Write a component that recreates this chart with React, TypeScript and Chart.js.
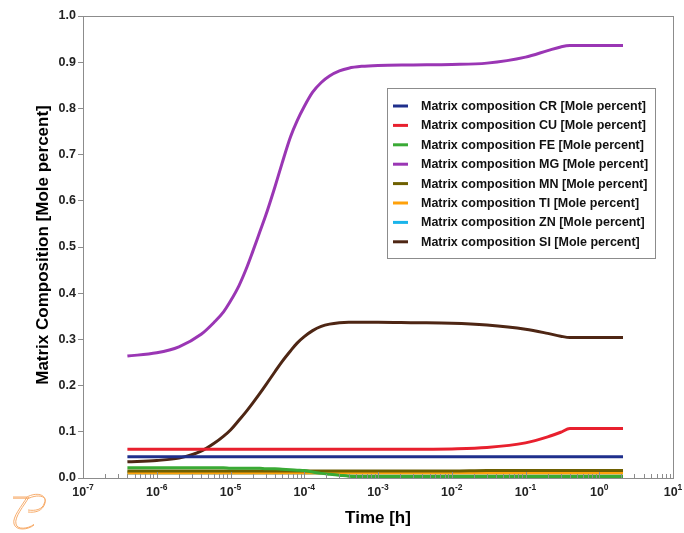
import React, { useEffect, useRef } from "react";
import { Chart, registerables } from "chart.js";

Chart.register(...registerables);

// ---- Data ----
const TIME_H = [4e-7, 1e-6, 2e-6, 4e-6, 6e-6, 8e-6, 1e-5, 1.3e-5, 1.6e-5, 2e-5, 2.5e-5, 3e-5, 4e-5, 5e-5, 6.5e-5, 8e-5, 1e-4, 1.3e-4, 1.7e-4, 2.2e-4, 3e-4, 4e-4, 6e-4, 1e-3, 3e-3, 1e-2, 3e-2, 0.1, 0.2, 0.3, 0.4, 1, 2.1];

const CR = [0.046, 0.046, 0.046, 0.046, 0.046, 0.046, 0.046, 0.046, 0.046, 0.046, 0.046, 0.046, 0.046, 0.046, 0.046, 0.046, 0.046, 0.046, 0.046, 0.046, 0.046, 0.046, 0.046, 0.046, 0.046, 0.046, 0.046, 0.046, 0.046, 0.046, 0.046, 0.046, 0.046];
const CU = [0.062, 0.062, 0.062, 0.062, 0.062, 0.062, 0.062, 0.062, 0.062, 0.062, 0.062, 0.062, 0.062, 0.062, 0.062, 0.062, 0.062, 0.062, 0.062, 0.062, 0.062, 0.062, 0.062, 0.062, 0.062, 0.063, 0.066, 0.076, 0.089, 0.099, 0.107, 0.107, 0.107];
const FE = [0.022, 0.022, 0.022, 0.022, 0.022, 0.022, 0.021, 0.021, 0.021, 0.021, 0.021, 0.02, 0.02, 0.019, 0.018, 0.017, 0.016, 0.013, 0.01, 0.008, 0.006, 0.004, 0.003, 0.003, 0.003, 0.003, 0.003, 0.003, 0.003, 0.003, 0.003, 0.003, 0.003];
const MG = [0.264, 0.271, 0.284, 0.311, 0.337, 0.359, 0.383, 0.416, 0.449, 0.49, 0.533, 0.568, 0.63, 0.681, 0.738, 0.773, 0.804, 0.835, 0.856, 0.87, 0.881, 0.887, 0.891, 0.893, 0.894, 0.895, 0.898, 0.911, 0.925, 0.933, 0.936, 0.936, 0.936];
const MN = [0.015, 0.015, 0.015, 0.015, 0.015, 0.015, 0.015, 0.015, 0.015, 0.015, 0.015, 0.015, 0.015, 0.015, 0.015, 0.015, 0.015, 0.015, 0.015, 0.015, 0.015, 0.015, 0.015, 0.015, 0.015, 0.015, 0.016, 0.016, 0.016, 0.016, 0.016, 0.016, 0.016];
const TI = [0.011, 0.011, 0.011, 0.011, 0.011, 0.011, 0.011, 0.011, 0.011, 0.011, 0.011, 0.011, 0.011, 0.011, 0.011, 0.011, 0.011, 0.011, 0.011, 0.011, 0.011, 0.011, 0.011, 0.011, 0.011, 0.011, 0.011, 0.011, 0.011, 0.011, 0.011, 0.011, 0.011];
const ZN = [0.011, 0.011, 0.011, 0.011, 0.011, 0.011, 0.011, 0.011, 0.011, 0.011, 0.011, 0.011, 0.011, 0.011, 0.011, 0.011, 0.011, 0.011, 0.011, 0.011, 0.011, 0.011, 0.011, 0.011, 0.011, 0.011, 0.011, 0.011, 0.011, 0.011, 0.011, 0.011, 0.011];
const SI = [0.035, 0.038, 0.043, 0.058, 0.075, 0.09, 0.104, 0.125, 0.142, 0.162, 0.183, 0.201, 0.23, 0.252, 0.275, 0.292, 0.306, 0.319, 0.328, 0.333, 0.336, 0.337, 0.337, 0.337, 0.336, 0.335, 0.331, 0.322, 0.313, 0.307, 0.304, 0.304, 0.304];

const SERIES_NAMES = [
  "Matrix composition CR [Mole percent]",
  "Matrix composition CU [Mole percent]",
  "Matrix composition FE [Mole percent]",
  "Matrix composition MG [Mole percent]",
  "Matrix composition MN [Mole percent]",
  "Matrix composition TI [Mole percent]",
  "Matrix composition ZN [Mole percent]",
  "Matrix composition SI [Mole percent]",
];
const SERIES_VALUES = [CR, CU, FE, MG, MN, TI, ZN, SI];
const SERIES_COLORS = ["#1f2f8c", "#e8202e", "#3aaa35", "#9a36b4", "#6e6000", "#ffa10a", "#1ab4ea", "#4e2614"];

const X_DECADE_EXPONENTS = [-7, -6, -5, -4, -3, -2, -1, 0, 1];
const Y_TICKS = [0, 0.1, 0.2, 0.3, 0.4, 0.5, 0.6, 0.7, 0.8, 0.9, 1.0];

const X_TITLE = "Time [h]";
const Y_TITLE = "Matrix Composition [Mole percent]";

const FONT = "'Liberation Sans', Arial, sans-serif";

const decorPlugin = {
  id: "decor",
  afterDraw(chart: any) {
    const ctx = chart.ctx as CanvasRenderingContext2D;
    const { left, right, top, bottom } = chart.chartArea;
    const xs = chart.scales.x;
    ctx.save();

    // frame
    ctx.strokeStyle = "#8c8c8c";
    ctx.lineWidth = 1;
    ctx.strokeRect(Math.round(left) + 0.5, Math.round(top) + 0.5, Math.round(right - left), Math.round(bottom - top));

    // x ticks (inward)
    ctx.beginPath();
    for (let i = 0; i < X_DECADE_EXPONENTS.length; i++) {
      const e = X_DECADE_EXPONENTS[i];
      const px = Math.round(xs.getPixelForValue(Math.pow(10, e))) + 0.5;
      ctx.moveTo(px, bottom);
      ctx.lineTo(px, bottom - 6);
      if (i < X_DECADE_EXPONENTS.length - 1) {
        for (let k = 2; k <= 9; k++) {
          const mx = Math.round(xs.getPixelForValue(k * Math.pow(10, e))) + 0.5;
          ctx.moveTo(mx, bottom);
          ctx.lineTo(mx, bottom - 4);
        }
      }
    }
    ctx.stroke();

    // x tick labels with superscripts
    ctx.fillStyle = "#222";
    ctx.textBaseline = "alphabetic";
    ctx.textAlign = "left";
    for (const e of X_DECADE_EXPONENTS) {
      const px = xs.getPixelForValue(Math.pow(10, e));
      ctx.font = `bold 12.5px ${FONT}`;
      const base = "10";
      const wb = ctx.measureText(base).width;
      ctx.font = `bold 8.5px ${FONT}`;
      const ex = String(e);
      const we = ctx.measureText(ex).width;
      const x0 = px - (wb + we) / 2;
      ctx.font = `bold 12.5px ${FONT}`;
      ctx.fillText(base, x0, bottom + 18);
      ctx.font = `bold 8.5px ${FONT}`;
      ctx.fillText(ex, x0 + wb, bottom + 12);
    }

    // axis titles
    ctx.fillStyle = "#000";
    ctx.font = `bold 17px ${FONT}`;
    ctx.textAlign = "center";
    ctx.textBaseline = "middle";
    ctx.fillText(X_TITLE, (left + right) / 2, bottom + 40);
    ctx.save();
    ctx.translate(43, (top + bottom) / 2 - 2);
    ctx.rotate(-Math.PI / 2);
    ctx.fillText(Y_TITLE, 0, 0);
    ctx.restore();

    // legend
    const lx = 387, ly = 88, lw = 268, lh = 170;
    ctx.fillStyle = "#fff";
    ctx.fillRect(lx, ly, lw, lh);
    ctx.strokeStyle = "#8c8c8c";
    ctx.lineWidth = 1;
    ctx.strokeRect(lx + 0.5, ly + 0.5, lw, lh);
    ctx.font = `bold 12.5px ${FONT}`;
    ctx.textAlign = "left";
    ctx.textBaseline = "middle";
    chart.data.datasets.forEach((ds: any, i: number) => {
      const cy = 106 + i * 19.4;
      ctx.strokeStyle = ds.borderColor;
      ctx.lineWidth = 3;
      ctx.beginPath();
      ctx.moveTo(393, cy);
      ctx.lineTo(408, cy);
      ctx.stroke();
      ctx.fillStyle = "#111";
      ctx.fillText(ds.label, 421, cy + 0.5);
    });

    // logo
    ctx.strokeStyle = "#f6a45c";
    ctx.lineWidth = 0.9;
    for (const off of [0, 2]) {
      ctx.beginPath();
      ctx.moveTo(13, 497 + off * 0.6);
      ctx.lineTo(27 + off, 497 + off * 0.6);
      ctx.bezierCurveTo(36 + off, 492 + off, 47 + off * 0.5, 494 + off, 45 - off * 0.3, 503);
      ctx.bezierCurveTo(43 - off * 0.3, 511 - off * 0.5, 35, 513 - off, 28, 512 - off);
      ctx.stroke();
      ctx.beginPath();
      ctx.moveTo(27 + off, 497);
      ctx.bezierCurveTo(22 + off, 506, 12 + off, 517, 14 + off, 524);
      ctx.bezierCurveTo(16 + off * 0.5, 531 - off * 0.5, 28, 530 - off * 0.5, 34, 525 - off * 0.3);
      ctx.stroke();
    }

    ctx.restore();
  },
};

export default function App() {
  const ref = useRef<HTMLCanvasElement | null>(null);
  useEffect(() => {
    document.body.style.margin = "0";
    const canvas = ref.current!;
    const chart = new Chart(canvas, {
      type: "line",
      data: {
        datasets: SERIES_NAMES.map((name, i) => ({
          label: name,
          data: TIME_H.map((t, j) => ({ x: t, y: SERIES_VALUES[i][j] })),
          borderColor: SERIES_COLORS[i],
          backgroundColor: SERIES_COLORS[i],
          borderWidth: 3,
          pointRadius: 0,
          fill: false,
          cubicInterpolationMode: "monotone" as const,
        })),
      },
      options: {
        responsive: false,
        animation: false,
        events: [],
        layout: { padding: { top: 16, right: 11, left: 0, bottom: 0 } },
        plugins: { legend: { display: false }, tooltip: { enabled: false } },
        scales: {
          x: {
            type: "logarithmic",
            min: 1e-7,
            max: 10,
            grid: { display: false },
            border: { display: false },
            ticks: { display: false },
            afterFit: (s: any) => {
              s.height = 55;
            },
          },
          y: {
            type: "linear",
            min: 0,
            max: 1,
            afterBuildTicks: (s: any) => {
              s.ticks = Y_TICKS.map((v) => ({ value: v }));
            },
            grid: { drawOnChartArea: false, drawTicks: true, tickLength: 5, color: "#8c8c8c" },
            border: { display: true, color: "#8c8c8c" },
            ticks: {
              padding: 2,
              color: "#222",
              font: { family: FONT, size: 12.5, weight: "bold" },
              callback: (v: any) => Number(v).toFixed(1),
            },
            afterFit: (s: any) => {
              s.width = 83;
            },
          },
        },
      } as any,
      plugins: [decorPlugin],
    });
    return () => chart.destroy();
  }, []);
  return <canvas ref={ref} width={684} height={533} style={{ display: "block" }} />;
}
